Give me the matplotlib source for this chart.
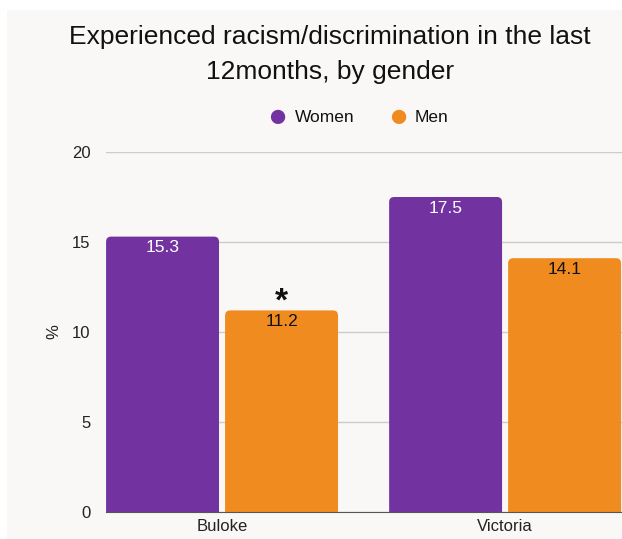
import matplotlib
matplotlib.use("Agg")
from matplotlib import pyplot as plt
from matplotlib.patches import FancyBboxPatch, Rectangle
import numpy as np

regions = ["Buloke", "Victoria"]
women = [15.3, 17.5]
men = [11.2, 14.1]
series = ["Women", "Men"]
flags_men = ["*", ""]
yticks = [0, 5, 10, 15, 20]

purple = "#7233a0"
orange = "#f08b1f"
panel = "#f9f8f6"

plt.rcParams["font.family"] = ["Liberation Sans", "DejaVu Sans"]

fig = plt.figure(figsize=(6.22, 5.39), dpi=100, facecolor="white")
fig.patches.append(Rectangle((7 / 622, 0), 1, 1 - 10 / 539, transform=fig.transFigure,
                             facecolor=panel, edgecolor="none", zorder=-5))

ax = fig.add_axes([106 / 622, 27 / 539, 516 / 622, 360 / 539])
ax.patch.set_alpha(0)

x = np.arange(len(regions))
w = 0.399
off = 0.2102
bars_w = ax.bar(x - off, women, w, color=purple, alpha=0)
bars_m = ax.bar(x + off, men, w, color=orange, alpha=0)

# rounded tops
for bars, col in [(bars_w, purple), (bars_m, orange)]:
    for b in bars:
        p = FancyBboxPatch((b.get_x(), -1), b.get_width(), b.get_height() + 1,
                           boxstyle="round,pad=0,rounding_size=0.018",
                           mutation_aspect=15.7, facecolor=col, edgecolor="none",
                           zorder=3)
        ax.add_patch(p)

for b, v in zip(bars_w, women):
    ax.text(b.get_x() + b.get_width() / 2, v - 0.62, f"{v}", ha="center", va="center",
            color="white", fontsize=12.5, zorder=4)
for b, v, fl in zip(bars_m, men, flags_men):
    ax.text(b.get_x() + b.get_width() / 2, v - 0.62, f"{v}", ha="center", va="center",
            color="#111111", fontsize=12.5, zorder=4)
    if fl:
        ax.text(b.get_x() + b.get_width() / 2, v - 0.4, fl, ha="center", va="bottom",
                color="#111111", fontsize=24, fontweight="bold", zorder=5)

ax.set_xlim(-0.41, 1.413)
ax.set_ylim(0, 20)
ax.set_yticks(yticks)
ax.set_xticks(x)
ax.set_xticklabels(regions)
ax.tick_params(axis="both", length=0, labelsize=12, colors="#222222")
ax.tick_params(axis="y", pad=11)
ax.tick_params(axis="x", pad=5)
ax.grid(axis="y", color="#cccccc", linewidth=1)
ax.set_axisbelow(True)
for s in ["top", "right", "left"]:
    ax.spines[s].set_visible(False)
ax.spines["bottom"].set_color("#555555")
ax.spines["bottom"].set_zorder(5)
ax.set_ylabel("%", fontsize=12, color="#222222", labelpad=8)

fig.text(330 / 622, 1 - 37 / 539, "Experienced racism/discrimination in the last",
         ha="center", va="center", fontsize=19, color="#111111")
fig.text(330 / 622, 1 - 72 / 539, "12months, by gender",
         ha="center", va="center", fontsize=19, color="#111111")

# legend
ly = 1 - 118 / 539
for cx, tx, col, lab in [(277, 295, purple, series[0]), (398, 415, orange, series[1])]:
    fig.text(cx / 622, ly, "\u25CF", ha="center", va="center", fontsize=24, color=col)
    fig.text(tx / 622, ly, lab, ha="left", va="center", fontsize=12.5, color="#111111")

fig.savefig("out.png", dpi=100, facecolor="white")
